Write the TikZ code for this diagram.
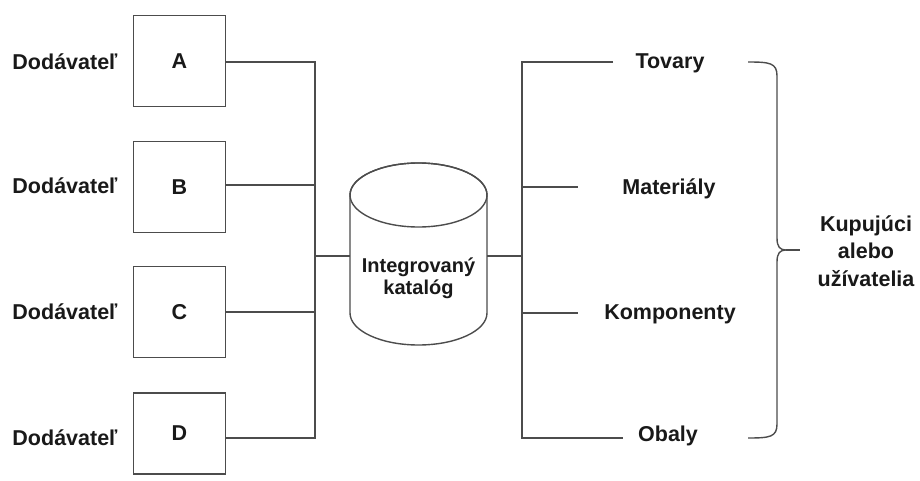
\documentclass[tikz,border=0pt]{standalone}
\usepackage{fontspec}
\setmainfont{Liberation Sans}
\begin{document}
\begin{tikzpicture}[x=1pt,y=-1pt,
  every node/.style={font=\fontsize{21.5}{22}\selectfont\bfseries, text=black!90, inner sep=0pt},
  ln/.style={draw=black!70, line width=1.4pt},
  sbox/.style={ln, minimum width=92pt, minimum height=91pt, fill=white},
  lbl/.style={anchor=center, align=center}]
\useasboundingbox (0,0) rectangle (920,481);
% supplier boxes
\node[sbox] (A) at (179.5,61) {A};
\node[sbox] (B) at (179.5,187) {B};
\node[sbox] (C) at (179.5,312) {C};
\node[sbox, minimum height=81pt] (D) at (179.5,433.5) {D};
\node[lbl] (dA) at (65,62) {Dodávateľ};
\node[lbl] (dB) at (65,186) {Dodávateľ};
\node[lbl] (dC) at (65,312) {Dodávateľ};
\node[lbl] (dD) at (65,438) {Dodávateľ};
% left bus
\coordinate (LA) at (315,62);
\coordinate (LB) at (315,185);
\coordinate (LC) at (315,312);
\coordinate (LD) at (315,438);
\coordinate (LM) at (315,256);
\draw[ln] (A.east |- LA) -- (LA) -- (LD) -- (D.east |- LD);
\draw[ln] (B.east |- LB) -- (LB);
\draw[ln] (C.east |- LC) -- (LC);
% cylinder
\draw[ln, fill=white] (350,195) -- (350,313) arc[start angle=180, end angle=0, x radius=68.5, y radius=32] -- (487,195) arc[start angle=0, end angle=-180, x radius=68.5, y radius=32];
\draw[ln] (418.5,195) ellipse[x radius=68.5, y radius=32];
\node[lbl, font=\fontsize{20}{22}\selectfont\bfseries] (cat) at (418.5,278) {Integrovaný\\katalóg};
\coordinate (catL) at (350,256);
\coordinate (catR) at (487,256);
\draw[ln] (LM) -- (catL);
% right bus
\coordinate (RM) at (522,256);
\coordinate (RT) at (522,62);
\coordinate (R2) at (522,187);
\coordinate (R3) at (522,313);
\coordinate (RB) at (522,438);
\draw[ln] (catR) -- (RM);
\node[lbl] (tov) at (670,63) {Tovary};
\node[lbl] (mat) at (669,189) {Materiály};
\node[lbl] (kom) at (670,314) {Komponenty};
\node[lbl] (oba) at (668,436) {Obaly};
\draw[ln] (613,62) -- (RT) -- (RB) -- (623,438);
\draw[ln] (R2) -- (578,187);
\draw[ln] (R3) -- (578,313);
% brace
\draw[ln] (748,62) .. controls (770,62) and (777,63) .. (777,76) -- (777,238)
  .. controls (777,247) and (780,250) .. (786,250)
  .. controls (780,250) and (777,253) .. (777,262) -- (777,424)
  .. controls (777,437) and (770,438) .. (748,438);
\draw[ln] (786,250) -- (800,250);
\node[lbl, font=\fontsize{21.5}{27.5}\selectfont\bfseries] (buy) at (866,251) {Kupujúci\\alebo\\užívatelia};
\end{tikzpicture}
\end{document}
